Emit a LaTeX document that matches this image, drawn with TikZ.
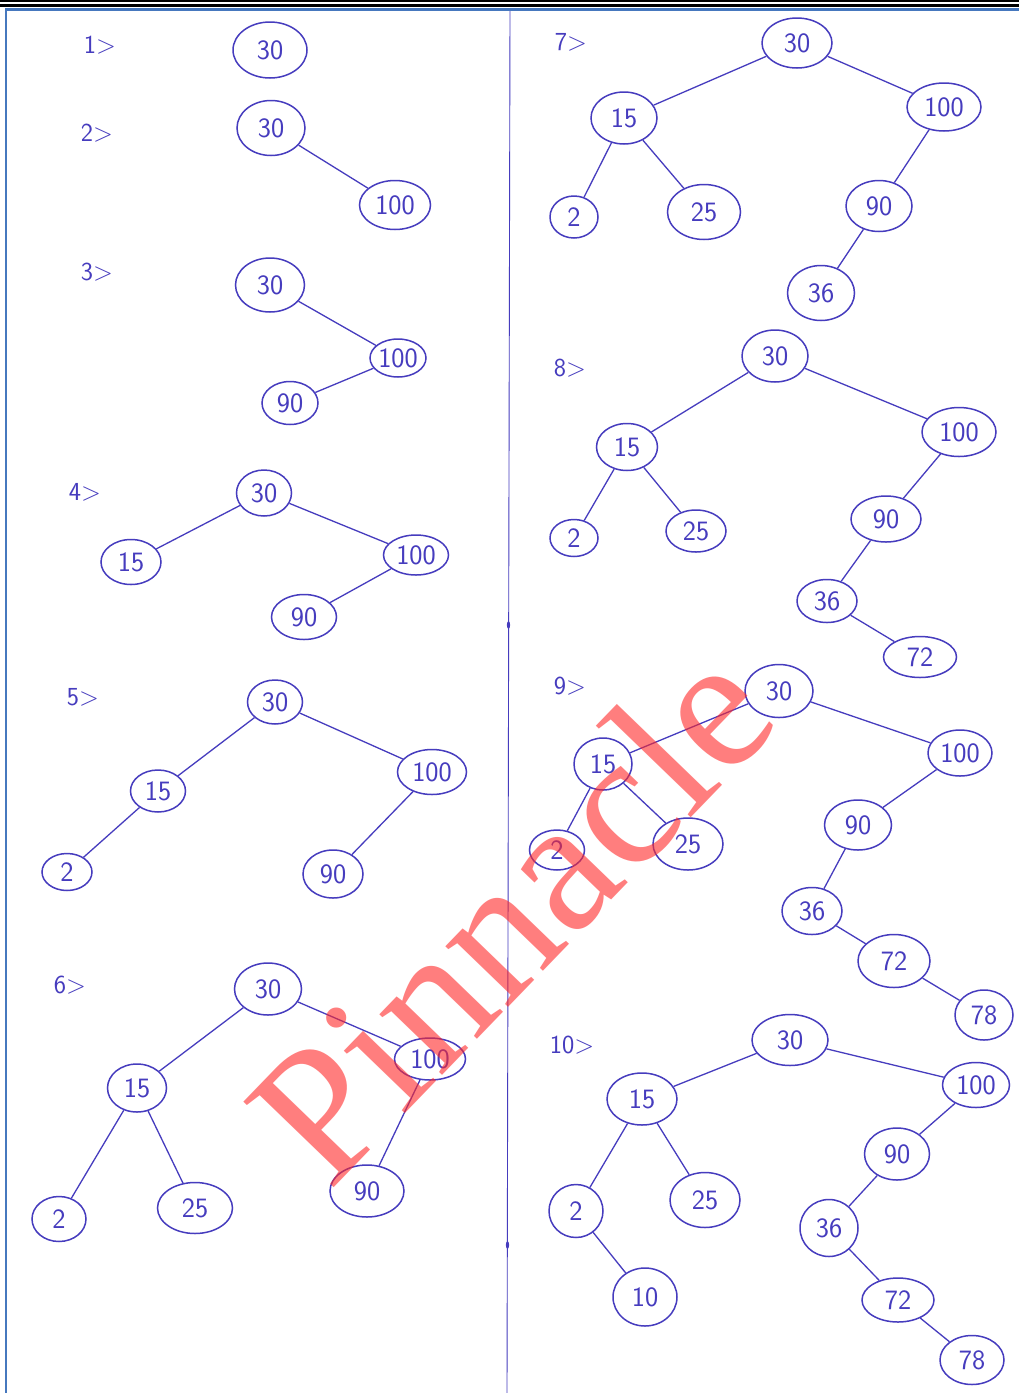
\documentclass[tikz,border=0pt]{standalone}
\usepackage{fontspec}
\newfontfamily\wmfont{Liberation Serif}
\usetikzlibrary{shapes.geometric}
\definecolor{ink}{RGB}{70,60,190}
\definecolor{frameblue}{RGB}{70,120,190}
\definecolor{wmred}{RGB}{255,40,40}
\newcommand{\bnode}[6]{\node[nd, minimum width=#4pt, minimum height=#5pt] (#1) at (#2,#3) {#6};}
\begin{document}
\begin{tikzpicture}[x=1pt,y=-1pt,
 nd/.style={ellipse, draw=ink, line width=1.5pt, inner sep=0pt, text=ink, font=\sffamily\fontsize{28}{30}\selectfont},
 edge/.style={draw=ink, line width=1.3pt},
 lbl/.style={text=ink, font=\sffamily\fontsize{26}{28}\selectfont}]
\useasboundingbox (0,0) rectangle (1019,1393);
\fill[white] (0,0) rectangle (1019,1393);
% frame
\draw[black, line width=1.2pt] (0,1) -- (1019,1);
\draw[black, line width=3pt] (0,5) -- (1019,5);
\draw[frameblue, line width=2.5pt] (6,1393) -- (6,9.5) -- (1019,9.5);
% divider
\draw[ink, line width=0.9pt] (510,11) -- (507,1393);
\fill[ink] (508.5,625) ellipse (1.6 and 4);
\fill[ink] (507.5,1245) ellipse (1.6 and 4);
% labels
\node[lbl] (l1) at (100,45) {1>};
\node[lbl] (l2) at (97,133) {2>};
\node[lbl] (l3) at (97,272) {3>};
\node[lbl] (l4) at (85,492) {4>};
\node[lbl] (l5) at (83,697) {5>};
\node[lbl] (l6) at (70,985) {6>};
\node[lbl] (l7) at (571,42) {7>};
\node[lbl] (l8) at (570,368) {8>};
\node[lbl] (l9) at (570,686) {9>};
\node[lbl] (l10) at (572,1045) {10>};
% tree 1
\bnode{a30}{270}{50}{74}{56}{30}
% tree 2
\bnode{b30}{271}{128}{68}{55}{30}
\bnode{b100}{395}{205}{71}{49}{100}
\draw[edge] (b30) -- (b100);
% tree 3
\bnode{c30}{270}{285}{69}{54}{30}
\bnode{c100}{398}{358}{56}{38}{100}
\bnode{c90}{290}{403}{56}{43}{90}
\draw[edge] (c30) -- (c100);
\draw[edge] (c100) -- (c90);
% tree 4
\bnode{d30}{264}{493}{55}{46}{30}
\bnode{d15}{131}{562}{60}{45}{15}
\bnode{d100}{416}{555}{65}{40}{100}
\bnode{d90}{304}{617}{65}{45}{90}
\draw[edge] (d30) -- (d15);
\draw[edge] (d30) -- (d100);
\draw[edge] (d100) -- (d90);
% tree 5
\bnode{e30}{275}{702}{55}{44}{30}
\bnode{e15}{158}{791}{55}{42}{15}
\bnode{e100}{432}{772}{69}{45}{100}
\bnode{e2}{67}{872}{50}{37}{2}
\bnode{e90}{333}{874}{60}{48}{90}
\draw[edge] (e30) -- (e15);
\draw[edge] (e30) -- (e100);
\draw[edge] (e15) -- (e2);
\draw[edge] (e100) -- (e90);
% tree 6
\bnode{f30}{268}{989}{67}{52}{30}
\bnode{f15}{137}{1088}{59}{48}{15}
\bnode{f100}{430}{1059}{71}{42}{100}
\bnode{f2}{59}{1219}{54}{45}{2}
\bnode{f25}{195}{1208}{75}{51}{25}
\bnode{f90}{367}{1191}{74}{52}{90}
\draw[edge] (f30) -- (f15);
\draw[edge] (f30) -- (f100);
\draw[edge] (f15) -- (f2);
\draw[edge] (f15) -- (f25);
\draw[edge] (f100) -- (f90);
% tree 7
\bnode{g30}{797}{43}{70}{50}{30}
\bnode{g15}{624}{118}{66}{52}{15}
\bnode{g100}{944}{107}{74}{48}{100}
\bnode{g2}{574}{217}{48}{42}{2}
\bnode{g25}{704}{212}{73}{55}{25}
\bnode{g90}{879}{206}{66}{51}{90}
\bnode{g36}{821}{293}{67}{55}{36}
\draw[edge] (g30) -- (g15);
\draw[edge] (g30) -- (g100);
\draw[edge] (g15) -- (g2);
\draw[edge] (g15) -- (g25);
\draw[edge] (g100) -- (g90);
\draw[edge] (g90) -- (g36);
% tree 8
\bnode{h30}{775}{356}{66}{52}{30}
\bnode{h15}{627}{447}{61}{47}{15}
\bnode{h100}{959}{432}{74}{49}{100}
\bnode{h2}{574}{538}{48}{37}{2}
\bnode{h25}{696}{531}{60}{42}{25}
\bnode{h90}{886}{519}{70}{46}{90}
\bnode{h36}{827}{601}{60}{43}{36}
\bnode{h72}{920}{657}{73}{41}{72}
\draw[edge] (h30) -- (h15);
\draw[edge] (h30) -- (h100);
\draw[edge] (h15) -- (h2);
\draw[edge] (h15) -- (h25);
\draw[edge] (h100) -- (h90);
\draw[edge] (h90) -- (h36);
\draw[edge] (h36) -- (h72);
% tree 9
\bnode{i30}{779}{691}{68}{53}{30}
\bnode{i15}{603}{764}{58}{52}{15}
\bnode{i100}{960}{753}{64}{46}{100}
\bnode{i2}{557}{850}{55}{40}{2}
\bnode{i25}{688}{844}{70}{52}{25}
\bnode{i90}{858}{825}{67}{50}{90}
\bnode{i36}{812}{911}{60}{47}{36}
\bnode{i72}{894}{961}{72}{53}{72}
\bnode{i78}{984}{1015}{58}{50}{78}
\draw[edge] (i30) -- (i15);
\draw[edge] (i30) -- (i100);
\draw[edge] (i15) -- (i2);
\draw[edge] (i15) -- (i25);
\draw[edge] (i100) -- (i90);
\draw[edge] (i90) -- (i36);
\draw[edge] (i36) -- (i72);
\draw[edge] (i72) -- (i78);
% tree 10
\bnode{j30}{790}{1040}{76}{51}{30}
\bnode{j15}{642}{1099}{70}{52}{15}
\bnode{j100}{976}{1085}{67}{45}{100}
\bnode{j2}{576}{1211}{54}{53}{2}
\bnode{j25}{705}{1200}{70}{55}{25}
\bnode{j90}{897}{1154}{65}{52}{90}
\bnode{j36}{829}{1228}{58}{57}{36}
\bnode{j10}{645}{1297}{64}{58}{10}
\bnode{j72}{898}{1300}{72}{44}{72}
\bnode{j78}{972}{1360}{64}{49}{78}
\draw[edge] (j30) -- (j15);
\draw[edge] (j30) -- (j100);
\draw[edge] (j15) -- (j2);
\draw[edge] (j15) -- (j25);
\draw[edge] (j100) -- (j90);
\draw[edge] (j90) -- (j36);
\draw[edge] (j2) -- (j10);
\draw[edge] (j36) -- (j72);
\draw[edge] (j72) -- (j78);
% watermark
\node[rotate=46, text=wmred, text opacity=0.6, font=\wmfont\fontsize{190}{190}\selectfont, inner sep=0pt] (wm) at (510,912) {Pinnacle};
\end{tikzpicture}
\end{document}
